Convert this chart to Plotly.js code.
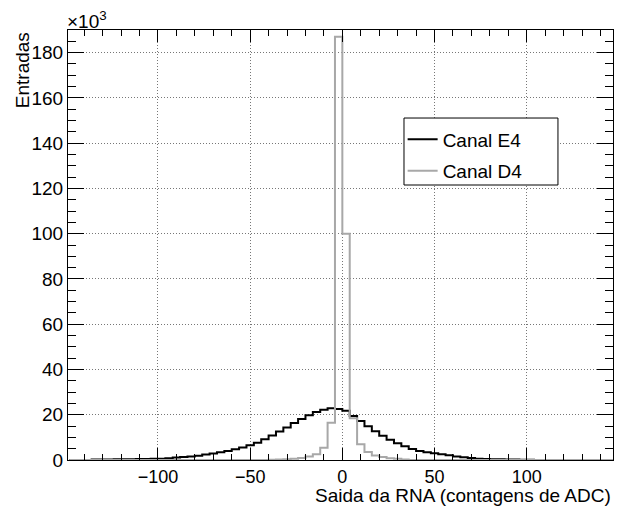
<!DOCTYPE html>
<html>
<head>
<meta charset="utf-8">
<script src="https://cdn.plot.ly/plotly-3.0.1.min.js"></script>
<style>html,body{margin:0;padding:0;background:#fff;}#chart{width:623px;height:508px;}</style>
</head>
<body>
<div id="chart"></div>
<script>
// Histogram binning (ADC counts): 74 bins of width 4 from -148 to 148
const binStart = -148;
const binWidth = 4;

// Entries per bin, in units of 10^3
const canalE4 = [
  0, 0, 0,
  0.2, 0.2, 0.25, 0.3, 0.3, 0.35, 0.4, 0.45, 0.5, 0.6,
  0.8, 1.1, 1.3, 1.6, 1.9, 2.4, 2.9, 3.4, 4.0, 4.7,
  5.5, 6.5, 7.6, 9.2, 10.8, 12.6, 14.4, 16.3, 18.1, 19.8,
  21.2, 22.2, 22.9, 22.5, 21.8, 19.4, 17.2, 14.9, 12.7, 10.7,
  9.0, 7.4, 6.1, 4.9, 4.0, 3.4, 3.0, 2.5, 2.1, 1.6,
  1.2, 0.9, 0.6, 0.45, 0.35, 0.3, 0.25, 0.2, 0.15, 0.1,
  0, 0, 0, 0, 0, 0, 0, 0, 0, 0, 0
];
const canalD4 = [
  0, 0, 0, 0, 0, 0, 0, 0, 0, 0,
  0, 0, 0, 0, 0, 0, 0, 0, 0, 0,
  0, 0, 0, 0, 0, 0, 0,
  0.15, 0.2, 0.3, 0.5, 0.9, 1.5, 2.5, 5.4, 16.5, 187,
  100, 18.5, 7.0, 3.5, 2.0, 1.3, 0.8, 0.5, 0.2,
  0, 0, 0, 0, 0, 0, 0, 0, 0, 0,
  0, 0, 0, 0, 0, 0, 0, 0, 0, 0,
  0, 0, 0, 0, 0, 0, 0, 0
];
const seriesNames = ['Canal E4', 'Canal D4'];
const yTickVals = [0, 20, 40, 60, 80, 100, 120, 140, 160, 180];
const xTickVals = [-100, -50, 0, 50, 100];

function stepXY(values) {
  const xs = [], ys = [];
  for (let i = 0; i < values.length; i++) {
    xs.push(binStart + i * binWidth);
    ys.push(values[i]);
  }
  xs.push(binStart + values.length * binWidth);
  ys.push(values[values.length - 1]);
  return {xs, ys};
}

const fontFam = 'Liberation Sans, Arial, Helvetica, sans-serif';
const FS = 19;
const e = stepXY(canalE4), d = stepXY(canalD4);

const traces = [
  {x: e.xs, y: e.ys, type: 'scatter', mode: 'lines', line: {shape: 'hv', color: '#000000', width: 2},
   name: seriesNames[0], legendgroup: 'a'},
  {x: d.xs, y: d.ys, type: 'scatter', mode: 'lines', line: {shape: 'hv', color: '#a8a8a8', width: 2},
   name: seriesNames[1], legendgroup: 'b'}
];

const layout = {
  width: 623, height: 508,
  margin: {l: 68, r: 10, t: 30, b: 48},
  paper_bgcolor: '#ffffff', plot_bgcolor: '#ffffff',
  font: {family: fontFam, size: FS, color: '#000'},
  showlegend: true,
  legend: {
    x: 0.614, y: 0.79, xanchor: 'left', yanchor: 'top',
    bgcolor: 'rgba(0,0,0,0)', borderwidth: 0,
    font: {family: fontFam, size: FS, color: '#000'},
    traceorder: 'grouped', tracegroupgap: 4
  },
  xaxis: {
    range: [-148.8, 146.8], tickvals: xTickVals, ticks: 'inside', ticklen: 12, tickwidth: 1, tickcolor: '#000',
    showline: true, linecolor: '#000', linewidth: 1, mirror: 'allticks',
    showgrid: true, gridcolor: '#777', griddash: '1px,2px', gridwidth: 1, zeroline: false,
    minor: {dtick: 10, ticks: 'inside', ticklen: 6, tickcolor: '#000', showgrid: false},
    tickfont: {family: fontFam, size: 18}
  },
  yaxis: {
    range: [0, 190], tickvals: yTickVals, ticks: 'inside', ticklen: 16, tickwidth: 1, tickcolor: '#000',
    showline: true, linecolor: '#000', linewidth: 1, mirror: 'allticks',
    showgrid: true, gridcolor: '#777', griddash: '1px,2px', gridwidth: 1, zeroline: false,
    minor: {dtick: 5, ticks: 'inside', ticklen: 8, tickcolor: '#000', showgrid: false},
    tickfont: {family: fontFam, size: FS}
  },
  shapes: [
    {type: 'rect', xref: 'paper', yref: 'paper', x0: 0.6165, x1: 0.899, y0: 0.6395, y1: 0.7953,
     fillcolor: '#ffffff', line: {color: '#000', width: 1}, layer: 'above'}
  ],
  annotations: [
    {text: 'Saida da RNA (contagens de ADC)', xref: 'paper', yref: 'paper', x: 1, y: -0.082,
     xanchor: 'right', yanchor: 'middle', showarrow: false, font: {family: fontFam, size: FS}},
    {text: 'Entradas', xref: 'paper', yref: 'paper', x: -0.084, y: 1, textangle: -90,
     xanchor: 'center', yanchor: 'top', showarrow: false, font: {family: fontFam, size: FS}},
    {text: '×10<sup>3</sup>', xref: 'paper', yref: 'paper', x: -0.006, y: 0.99, xanchor: 'left', yanchor: 'bottom',
     showarrow: false, font: {family: fontFam, size: FS}}
  ]
};

Plotly.newPlot('chart', traces, layout, {displayModeBar: false, staticPlot: true});
</script>
</body>
</html>
